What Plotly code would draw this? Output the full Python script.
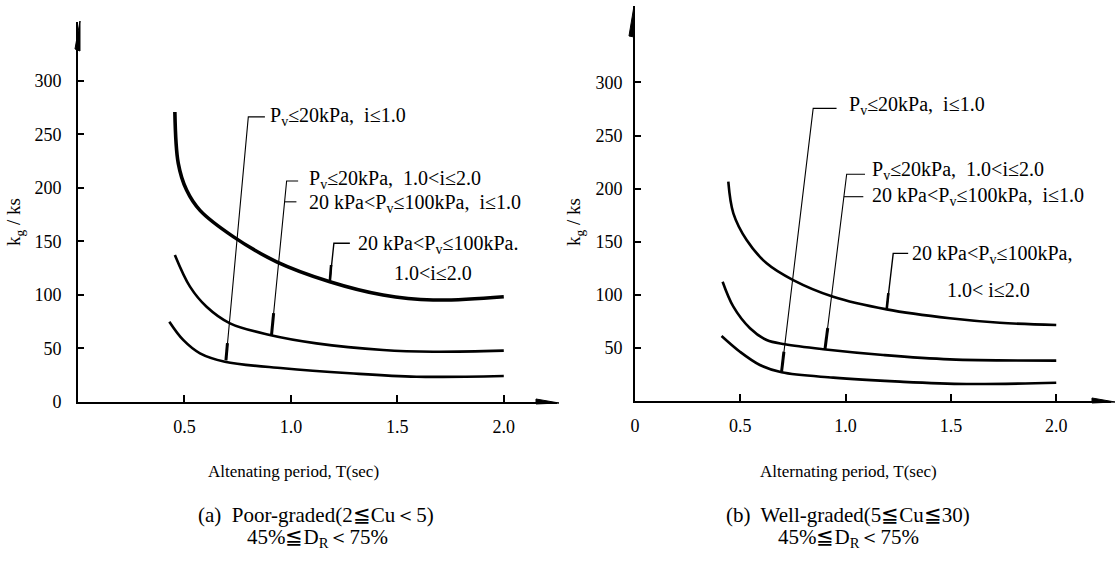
import plotly.graph_objects as go

W, H = 1116, 565

# ---------------- data ----------------
# (a) Poor-graded
T_a_top = [0.455, 0.471, 0.510, 0.573, 0.729, 0.933, 1.183, 1.433, 1.668, 2.0]
k_a_top = [271, 223, 198, 179, 154.5, 131, 112.4, 100, 95.3, 98.4]
T_a_mid = [0.455, 0.526, 0.604, 0.714, 0.901, 1.12, 1.433, 1.668, 2.0]
k_a_mid = [137.4, 107.8, 89, 73.5, 62.6, 54.8, 48.6, 47, 48]
T_a_low = [0.429, 0.494, 0.573, 0.690, 0.964, 1.277, 1.59, 2.0]
k_a_low = [75, 58, 45.5, 37.7, 31.5, 26.8, 23.6, 24.3]

# (b) Well-graded
T_b_top = [0.443, 0.467, 0.530, 0.625, 0.751, 0.941, 1.195, 1.495, 1.732, 2.0]
k_b_top = [206.5, 176.7, 151.6, 129.7, 113.9, 98.2, 86.3, 77.9, 73.7, 71.6]
T_b_mid = [0.416, 0.467, 0.546, 0.625, 0.712, 0.894, 1.178, 1.495, 2.0]
k_b_mid = [112.3, 88.8, 68.5, 57.4, 53.4, 48.7, 43.3, 39.2, 38]
T_b_low = [0.411, 0.498, 0.593, 0.696, 0.941, 1.258, 1.574, 2.0]
k_b_low = [61.2, 46.4, 33.9, 27, 22, 18.2, 16, 17.2]

x_ticks = [0.5, 1.0, 1.5, 2.0]
x_ticktext = ["0.5", "1.0", "1.5", "2.0"]
y_ticks_a = [0, 50, 100, 150, 200, 250, 300]
y_ticks_b = [50, 100, 150, 200, 250, 300]

lab1 = "P<sub>v</sub>≤20kPa,  i≤1.0"
lab2 = "P<sub>v</sub>≤20kPa,  1.0<i≤2.0"
lab3 = "20 kPa<P<sub>v</sub>≤100kPa,  i≤1.0"
lab4a_a = "20 kPa<P<sub>v</sub>≤100kPa."
lab4a_b = "20 kPa<P<sub>v</sub>≤100kPa,"
lab4b_a = "1.0<i≤2.0"
lab4b_b = "1.0< i≤2.0"

xtitle_a = "Altenating period, T(sec)"
xtitle_b = "Alternating period, T(sec)"
ytitle = "k<sub>g</sub> / ks"
cap_a1 = "(a)  Poor-graded(2≦Cu＜5)"
cap_b1 = "(b)  Well-graded(5≦Cu≦30)"
cap2 = "45%≦D<sub>R</sub>＜75%"

# ---------------- figure ----------------
def px(x):
    return x / W


def py(y):
    return 1 - y / H


SERIF = "Liberation Serif"

fig = go.Figure()
curve_sets = [
    ("x", "y", T_a_top, k_a_top, 3.6),
    ("x", "y", T_a_mid, k_a_mid, 2.6),
    ("x", "y", T_a_low, k_a_low, 2.6),
    ("x2", "y2", T_b_top, k_b_top, 2.6),
    ("x2", "y2", T_b_mid, k_b_mid, 2.6),
    ("x2", "y2", T_b_low, k_b_low, 2.6),
]
for xa, ya, xs, ys, lw in curve_sets:
    fig.add_trace(go.Scatter(x=xs, y=ys, xaxis=xa, yaxis=ya, mode="lines",
                             line=dict(color="black", width=lw, shape="spline", smoothing=1.0),
                             showlegend=False, hoverinfo="skip"))

tickfont = dict(family=SERIF, size=18, color="black")
common_x = dict(showline=True, linewidth=2, linecolor="black", ticks="inside", ticklen=7,
                tickwidth=1.5, tickcolor="black", showgrid=False, zeroline=False,
                tickfont=tickfont, automargin=False, fixedrange=True, ticklabelstandoff=7)
common_y = dict(showline=True, linewidth=2, linecolor="black", ticks="inside", ticklen=6,
                tickwidth=1.5, tickcolor="black", showgrid=False, zeroline=False,
                tickfont=tickfont, automargin=False, fixedrange=True)

fig.update_layout(
    width=W, height=H, margin=dict(l=0, r=0, t=0, b=0),
    paper_bgcolor="white", plot_bgcolor="white",
    xaxis=dict(domain=[px(78), px(557)], range=[0, 2.25], anchor="y",
               tickvals=x_ticks, ticktext=x_ticktext, **common_x),
    yaxis=dict(domain=[py(402), py(22)], range=[0, 355], anchor="x",
               tickvals=y_ticks_a, ticklabelstandoff=11, **common_y),
    xaxis2=dict(domain=[px(635), px(1111)], range=[0, 2.26], anchor="y2",
                tickvals=[0] + x_ticks, ticktext=["0"] + x_ticktext, **common_x),
    yaxis2=dict(domain=[py(401), py(6)], range=[0, 372], anchor="x2",
                tickvals=y_ticks_b, ticklabelstandoff=7, **common_y),
)

shapes = []


def tri(pts):
    d = "M " + " L ".join(f"{px(a):.5f},{py(b):.5f}" for a, b in pts) + " Z"
    return dict(type="path", xref="paper", yref="paper", path=d,
                fillcolor="black", line=dict(color="black", width=1))


# axis arrows
shapes += [tri([(536, 399), (559, 403), (536, 404)]),
           tri([(1092, 398), (1115, 402), (1092, 403)]),
           tri([(80, 21), (80, 51), (75, 49)]),
           tri([(634, 6), (634, 37), (629, 36)])]


def leader(xr, yr, pts, w=1.1):
    d = "M " + " L ".join(f"{a},{b}" for a, b in pts)
    return dict(type="path", xref=xr, yref=yr, path=d, line=dict(color="black", width=w))


shapes += [
    # left panel leaders
    leader("x", "y", [(0.695, 39), (0.80, 266.4), (0.878, 266.4)]),
    leader("x", "y", [(0.695, 39), (0.702, 55)], 3),
    leader("x", "y", [(0.909, 62.6), (0.98, 206.5), (1.034, 206.5)]),
    leader("x", "y", [(0.9706, 187), (1.026, 187)]),
    leader("x", "y", [(0.909, 62.6), (0.919, 83)], 3),
    leader("x", "y", [(1.183, 112.4), (1.202, 148.3), (1.277, 148.3)], 1.4),
    leader("x", "y", [(1.183, 112.4), (1.189, 128)], 2.6),
    # right panel leaders
    leader("x2", "y2", [(0.696, 27.6), (0.846, 275.6), (0.957, 275.6)]),
    leader("x2", "y2", [(0.696, 27.6), (0.707, 46.4)], 3),
    leader("x2", "y2", [(0.902, 48.7), (1.005, 213.5), (1.092, 213.5)]),
    leader("x2", "y2", [(0.992, 192.4), (1.084, 192.4)]),
    leader("x2", "y2", [(0.902, 48.7), (0.915, 68.7)], 3),
    leader("x2", "y2", [(1.195, 86.3), (1.226, 139), (1.297, 139)], 1.4),
    leader("x2", "y2", [(1.195, 86.3), (1.203, 101.7)], 2.6),
]
fig.update_layout(shapes=shapes)

afont = dict(family=SERIF, size=20, color="black")
ann = []


def txt(xr, yr, x, y, t, font=afont, xanchor="left"):
    ann.append(dict(xref=xr, yref=yr, x=x, y=y, text=t, showarrow=False,
                    xanchor=xanchor, yanchor="middle", font=font))


txt("x", "y", 0.892, 266.4, lab1)
txt("x", "y", 1.074, 207.5, lab2)
txt("x", "y", 1.074, 185.7, lab3)
txt("x", "y", 1.308, 146.7, lab4a_a)
txt("x", "y", 1.473, 120.3, lab4b_a)

txt("x2", "y2", 1.005, 278.7, lab1)
txt("x2", "y2", 1.115, 217.5, lab2)
txt("x2", "y2", 1.115, 192.4, lab3)
txt("x2", "y2", 1.305, 137.5, lab4a_b)
txt("x2", "y2", 1.471, 104.5, lab4b_b)

tfont = dict(family=SERIF, size=17, color="black")
cfont = dict(family=SERIF, size=21, color="black")
txt("paper", "paper", px(293), py(471), xtitle_a, tfont, "center")
txt("paper", "paper", px(848), py(471), xtitle_b, tfont, "center")
txt("paper", "paper", px(316), py(515), cap_a1, cfont, "center")
txt("paper", "paper", px(848), py(515), cap_b1, cfont, "center")
txt("paper", "paper", px(317), py(538), cap2, cfont, "center")
txt("paper", "paper", px(848), py(538), cap2, cfont, "center")

yfont = dict(family=SERIF, size=19, color="black")
for xx in (15, 575):
    ann.append(dict(xref="paper", yref="paper", x=px(xx), y=py(222), text=ytitle,
                    showarrow=False, textangle=-90, xanchor="center", yanchor="middle",
                    font=yfont))

fig.update_layout(annotations=ann)
fig.write_html("out.html")
